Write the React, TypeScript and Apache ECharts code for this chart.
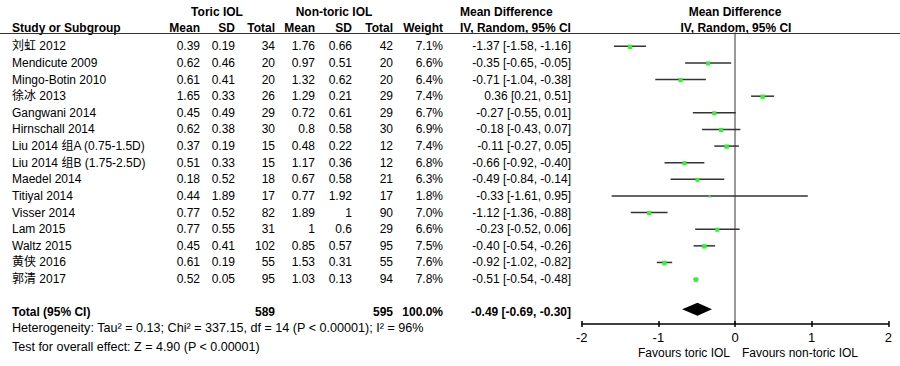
import React, { useEffect, useRef } from "react";
import * as echarts from "echarts";

const studies = ["刘虹 2012", "Mendicute 2009", "Mingo-Botin 2010", "徐冰 2013", "Gangwani 2014", "Hirnschall 2014", "Liu 2014 组A (0.75-1.5D)", "Liu 2014 组B (1.75-2.5D)", "Maedel 2014", "Titiyal 2014", "Visser 2014", "Lam 2015", "Waltz 2015", "黄侠 2016", "郭清 2017"];
const toricMean = [0.39, 0.62, 0.61, 1.65, 0.45, 0.62, 0.37, 0.51, 0.18, 0.44, 0.77, 0.77, 0.45, 0.61, 0.52];
const toricSD = [0.19, 0.46, 0.41, 0.33, 0.49, 0.38, 0.19, 0.33, 0.52, 1.89, 0.52, 0.55, 0.41, 0.19, 0.05];
const toricN = [34, 20, 20, 26, 29, 30, 15, 15, 18, 17, 82, 31, 102, 55, 95];
const nonMean = [1.76, 0.97, 1.32, 1.29, 0.72, 0.8, 0.48, 1.17, 0.67, 0.77, 1.89, 1, 0.85, 1.53, 1.03];
const nonSD = [0.66, 0.51, 0.62, 0.21, 0.61, 0.58, 0.22, 0.36, 0.58, 1.92, 1, 0.6, 0.57, 0.31, 0.13];
const nonN = [42, 20, 20, 29, 29, 30, 12, 12, 21, 17, 90, 29, 95, 55, 94];
const weight = [7.1, 6.6, 6.4, 7.4, 6.7, 6.9, 7.4, 6.8, 6.3, 1.8, 7.0, 6.6, 7.5, 7.6, 7.8];
const md = [-1.37, -0.35, -0.71, 0.36, -0.27, -0.18, -0.11, -0.66, -0.49, -0.33, -1.12, -0.23, -0.4, -0.92, -0.51];
const ciLow = [-1.58, -0.65, -1.04, 0.21, -0.55, -0.43, -0.27, -0.92, -0.84, -1.61, -1.36, -0.52, -0.54, -1.02, -0.54];
const ciHigh = [-1.16, -0.05, -0.38, 0.51, 0.01, 0.07, 0.05, -0.4, -0.14, 0.95, -0.88, 0.06, -0.26, -0.82, -0.48];

const totalLabel = "Total (95% CI)";
const totalToricN = 589;
const totalNonN = 595;
const totalWeight = "100.0%";
const totalMD = -0.49;
const totalLow = -0.69;
const totalHigh = -0.3;
const heterogeneity = "Heterogeneity: Tau² = 0.13; Chi² = 337.15, df = 14 (P < 0.00001); I² = 96%";
const overallTest = "Test for overall effect: Z = 4.90 (P < 0.00001)";
const xTicks = [-2, -1, 0, 1, 2];
const favourLeft = "Favours toric IOL";
const favourRight = "Favours non-toric IOL";

const FONT = "'Liberation Sans', Arial, Helvetica, 'Noto Sans CJK SC', sans-serif";
const TOTAL_ROW = 16;

function fmtCI(m: number, l: number, h: number) {
  return `${m.toFixed(2)} [${l.toFixed(2)}, ${h.toFixed(2)}]`;
}

export default function App() {
  const ref = useRef<HTMLDivElement>(null);
  useEffect(() => {
    if (!ref.current) return;
    const chart = echarts.init(ref.current, undefined, { renderer: "svg" });

    const cols = [
      { x: 12, align: "left", get: (i: number) => studies[i] },
      { x: 200, align: "right", get: (i: number) => String(toricMean[i]) },
      { x: 235, align: "right", get: (i: number) => String(toricSD[i]) },
      { x: 275, align: "right", get: (i: number) => String(toricN[i]) },
      { x: 315, align: "right", get: (i: number) => String(nonMean[i]) },
      { x: 352, align: "right", get: (i: number) => String(nonSD[i]) },
      { x: 393, align: "right", get: (i: number) => String(nonN[i]) },
      { x: 443, align: "right", get: (i: number) => weight[i].toFixed(1) + "%" },
      { x: 571, align: "right", get: (i: number) => fmtCI(md[i], ciLow[i], ciHigh[i]) },
    ];
    const totalCols = [
      { x: 12, align: "left", t: totalLabel },
      { x: 275, align: "right", t: String(totalToricN) },
      { x: 393, align: "right", t: String(totalNonN) },
      { x: 443, align: "right", t: totalWeight },
      { x: 571, align: "right", t: fmtCI(totalMD, totalLow, totalHigh) },
    ];

    const headerStyle = (text: string, x: number, y: number, align: string) => ({
      type: "text",
      x,
      y,
      style: { text, align, verticalAlign: "middle", fill: "#000", fontSize: 12, fontWeight: "bold", fontFamily: FONT },
    });
    const plainText = (text: string, x: number, y: number, align: string, size = 12) => ({
      type: "text",
      x,
      y,
      style: { text, align, verticalAlign: "middle", fill: "#000", fontSize: size, fontFamily: FONT },
    });

    const option: any = {
      animation: false,
      grid: { left: 581.7, right: 11.7, top: 33, bottom: 42, containLabel: false },
      xAxis: [
        {
          type: "value",
          min: -2,
          max: 2,
          interval: 1,
          position: "bottom",
          axisLine: { onZero: false, lineStyle: { color: "#000", width: 1.5 } },
          axisTick: { show: true, length: 3, lineStyle: { color: "#000", width: 1.5 } },
          axisLabel: { fontSize: 13, color: "#000", fontFamily: FONT, margin: 7, formatter: (v: number) => (xTicks.includes(v) ? String(v) : "") },
          splitLine: { show: false },
        },
        {
          type: "value",
          min: -2,
          max: 2,
          interval: 1,
          position: "bottom",
          axisLine: { show: false, onZero: false },
          axisTick: { show: true, inside: true, length: 3, lineStyle: { color: "#000", width: 1.5 } },
          axisLabel: { show: false },
          splitLine: { show: false },
        },
      ],
      yAxis: {
        type: "value",
        inverse: true,
        min: -0.8,
        max: 16.7,
        axisLine: { show: true, onZero: true, lineStyle: { color: "#777", width: 1.5 } },
        axisTick: { show: false },
        axisLabel: { show: false },
        splitLine: { show: false },
      },
      graphic: [
        { type: "line", shape: { x1: 0, y1: 33.5, x2: 900, y2: 33.5 }, style: { stroke: "#333", lineWidth: 1.2 }, z: 10 },
        headerStyle("Toric IOL", 217, 12, "center"),
        headerStyle("Non-toric IOL", 334, 12, "center"),
        headerStyle("Study or Subgroup", 12, 28, "left"),
        headerStyle("Mean", 200, 28, "right"),
        headerStyle("SD", 235, 28, "right"),
        headerStyle("Total", 275, 28, "right"),
        headerStyle("Mean", 315, 28, "right"),
        headerStyle("SD", 352, 28, "right"),
        headerStyle("Total", 393, 28, "right"),
        headerStyle("Weight", 443, 28, "right"),
        headerStyle("Mean Difference", 460, 12, "left"),
        headerStyle("IV, Random, 95% CI", 460, 28, "left"),
        headerStyle("Mean Difference", 735, 12, "center"),
        headerStyle("IV, Random, 95% CI", 736, 28, "center"),
        plainText(heterogeneity, 12, 328, "left", 12.6),
        plainText(overallTest, 12, 347, "left", 12.5),
        plainText(favourLeft, 730, 353, "right"),
        plainText(favourRight, 742, 353, "left"),
      ],
      series: [
        {
          type: "custom",
          name: "table",
          xAxisIndex: 0,
          clip: false,
          silent: true,
          data: studies.map((_, i) => [0, i]),
          encode: { x: 0, y: 1 },
          renderItem: (params: any, api: any) => {
            const i = params.dataIndex;
            const y = api.coord([0, i])[1];
            return {
              type: "group",
              children: cols.map((c) => ({
                type: "text",
                x: c.x,
                y,
                style: { text: c.get(i), align: c.align, verticalAlign: "middle", fill: "#000", fontSize: 12, fontFamily: FONT },
              })),
            };
          },
        },
        {
          type: "custom",
          name: "total",
          xAxisIndex: 0,
          clip: false,
          silent: true,
          data: [[0, TOTAL_ROW]],
          encode: { x: 0, y: 1 },
          renderItem: (_p: any, api: any) => {
            const y = api.coord([0, TOTAL_ROW])[1];
            return {
              type: "group",
              children: totalCols.map((c) => ({
                type: "text",
                x: c.x,
                y,
                style: { text: c.t, align: c.align, verticalAlign: "middle", fill: "#000", fontSize: 12, fontWeight: "bold", fontFamily: FONT },
              })),
            };
          },
        },
        {
          type: "custom",
          name: "ci",
          xAxisIndex: 0,
          clip: false,
          silent: true,
          data: md.map((m, i) => [m, i, ciLow[i], ciHigh[i], weight[i]]),
          encode: { x: 0, y: 1 },
          renderItem: (_p: any, api: any) => {
            const m = api.value(0);
            const i = api.value(1);
            const lo = api.coord([api.value(2), i]);
            const hi = api.coord([api.value(3), i]);
            const c = api.coord([m, i]);
            const s = Math.sqrt(api.value(4)) * 1.6;
            return {
              type: "group",
              children: [
                { type: "line", shape: { x1: lo[0], y1: lo[1], x2: hi[0], y2: hi[1] }, style: { stroke: "#333", lineWidth: 1.5 } },
                { type: "rect", shape: { x: c[0] - s / 2, y: c[1] - s / 2 + 0.5, width: s, height: s }, style: { fill: "#2ef52e" } },
              ],
            };
          },
        },
        {
          type: "custom",
          name: "diamond",
          xAxisIndex: 0,
          clip: false,
          silent: true,
          data: [[totalMD, TOTAL_ROW, totalLow, totalHigh]],
          encode: { x: 0, y: 1 },
          renderItem: (_p: any, api: any) => {
            const yv = api.value(1);
            const l = api.coord([api.value(2), yv]);
            const h = api.coord([api.value(3), yv]);
            const c = api.coord([api.value(0), yv]);
            const cy = c[1] - 3;
            return {
              type: "polygon",
              shape: { points: [[l[0], cy], [c[0], cy - 6.5], [h[0], cy], [c[0], cy + 6.5]] },
              style: { fill: "#000" },
            };
          },
        },
      ],
    };
    chart.setOption(option);
    return () => chart.dispose();
  }, []);
  return <div ref={ref} style={{ position: "fixed", left: 0, top: 0, width: 900, height: 366, background: "#fff" }} />;
}
